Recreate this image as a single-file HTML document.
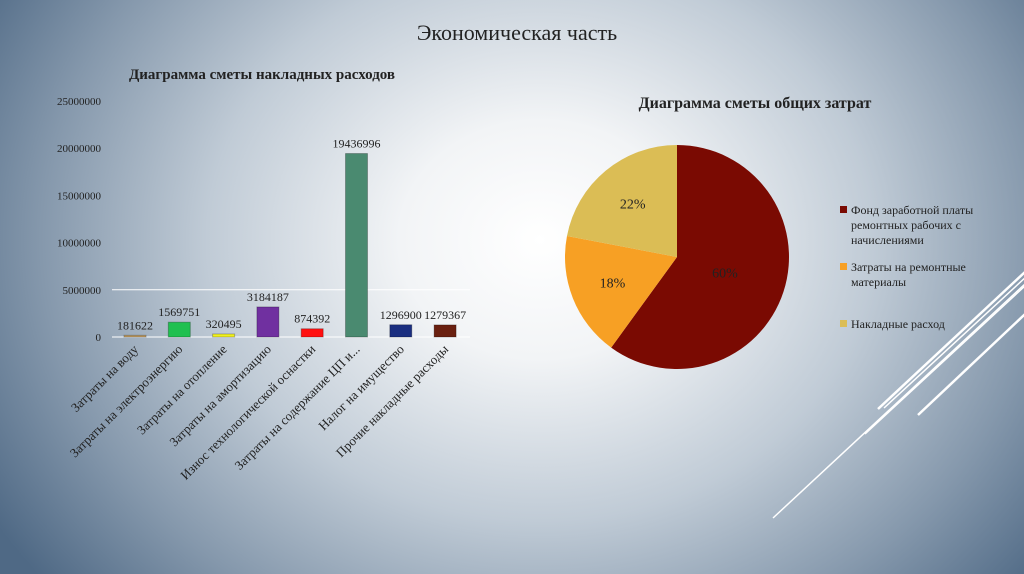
<!DOCTYPE html>
<html><head><meta charset="utf-8">
<style>
body{margin:0;width:1024px;height:574px;overflow:hidden;font-family:"Liberation Serif","Noto Serif CJK SC",serif;}
#bg{position:absolute;left:0;top:0;width:1024px;height:574px;background:radial-gradient(ellipse 640px 540px at 540px 240px,#ffffff 0%,#f2f4f6 22%,#c0cbd6 52%,#8598ac 78%,#4f6985 100%);}
svg{position:absolute;left:0;top:0}
</style></head><body>
<div id="bg"></div>
<svg width="1024" height="574">
<g stroke="#fff" fill="none">
<line x1="773" y1="518" x2="1040" y2="270" stroke-width="1.5"/>
<line x1="865" y1="434" x2="1040" y2="272" stroke-width="1.5"/>
<line x1="878" y1="409" x2="1040" y2="258" stroke-width="2.5"/>
<line x1="918" y1="415" x2="1040" y2="300" stroke-width="2.5"/>
<line x1="884" y1="408" x2="1040" y2="264" stroke-width="1.5"/>
</g>
<text x="517" y="40" text-anchor="middle" font-size="22" fill="#222">Экономическая часть</text>
<text x="262" y="79" text-anchor="middle" font-size="15" font-weight="bold" fill="#222">Диаграмма сметы накладных расходов</text>
<text x="755" y="108" text-anchor="middle" font-size="16" font-weight="bold" fill="#222">Диаграмма сметы общих затрат</text>
<g id="bars"></g>
<g id="pie"></g>
<g font-size="12" fill="#222">
<rect x="840" y="206" width="7" height="7" fill="#7a0a02"/>
<text x="851" y="214">Фонд заработной платы</text>
<text x="851" y="229">ремонтных рабочих с</text>
<text x="851" y="244">начислениями</text>
<rect x="840" y="263" width="7" height="7" fill="#f7a024"/>
<text x="851" y="271">Затраты на ремонтные</text>
<text x="851" y="286">материалы</text>
<rect x="840" y="320" width="7" height="7" fill="#dbbd55"/>
<text x="851" y="328">Накладные расход</text>
</g>
</svg>
<script>
const categories=["Затраты на воду","Затраты на электроэнергию","Затраты на отопление","Затраты на амортизацию","Износ технологической оснастки","Затраты на содержание ЦП и...","Налог на имущество","Прочие накладные расходы"];
const values=[181622,1569751,320495,3184187,874392,19436996,1296900,1279367];
const barColors=["#c8a060","#20c050","#f0f020","#7030a0","#ff1010","#4a8a70","#1a2e80","#6a2010"];
const yTicks=[0,5000000,10000000,15000000,20000000,25000000];
const pieLabels=["Фонд заработной платы","Затраты на ремонтные материалы","Накладные расход"];
const pieValues=[60,18,22];
const pieColors=["#7a0a02","#f7a024","#dbbd55"];
const NS="http://www.w3.org/2000/svg";
function mk(t,a,p){const e=document.createElementNS(NS,t);for(const k in a)e.setAttribute(k,a[k]);p.appendChild(e);return e;}
const y=v=>337-v/25000000*236;
const x=i=>135+i*44.3;
const bars=document.getElementById('bars');
yTicks.forEach(t=>{
 const l=mk('text',{x:101,y:y(t)+4,'text-anchor':'end','font-size':11,fill:'#222'},bars);l.textContent=t;
 
 
});
[0,5000000].forEach(t=>{const g=mk('line',{x1:112,x2:470,y1:y(t),y2:y(t),stroke:'#fff','stroke-width':1},bars);
 
 });
values.forEach((v,i)=>{
 const r=mk('rect',{x:x(i)-11,y:y(v),width:22,height:Math.max(1,337-y(v)),fill:barColors[i],stroke:'rgba(0,0,0,0.25)'},bars);
 
 
 const lb=mk('text',{x:x(i),y:y(v)-6,'text-anchor':'middle','font-size':12,fill:'#222'},bars);lb.textContent=v;
 
 
 const c=mk('text',{x:x(i)+4,y:350,'text-anchor':'end','font-size':13,fill:'#222',transform:`rotate(-45 ${x(i)+4} 350)`},bars);c.textContent=categories[i];
 
 
});
const pie=document.getElementById('pie');
const cx=677,cy=257,R=112;let a0=-Math.PI/2;const tot=pieValues.reduce((a,b)=>a+b,0);
pieValues.forEach((v,i)=>{
 const a1=a0+v/tot*2*Math.PI;
 const p=`M${cx},${cy}L${cx+R*Math.cos(a0)},${cy+R*Math.sin(a0)}A${R},${R} 0 ${a1-a0>Math.PI?1:0} 1 ${cx+R*Math.cos(a1)},${cy+R*Math.sin(a1)}Z`;
 const s=mk('path',{d:p,fill:pieColors[i]},pie);
 
 
 const am=(a0+a1)/2;
 const f=v>50?0.45:0.62;
 const t=mk('text',{x:cx+R*f*Math.cos(am),y:cy+R*f*Math.sin(am)+5,'text-anchor':'middle','font-size':14,fill:'#222'},pie);t.textContent=v+'%';
 
 
 a0=a1;
});
</script>
</body></html>
